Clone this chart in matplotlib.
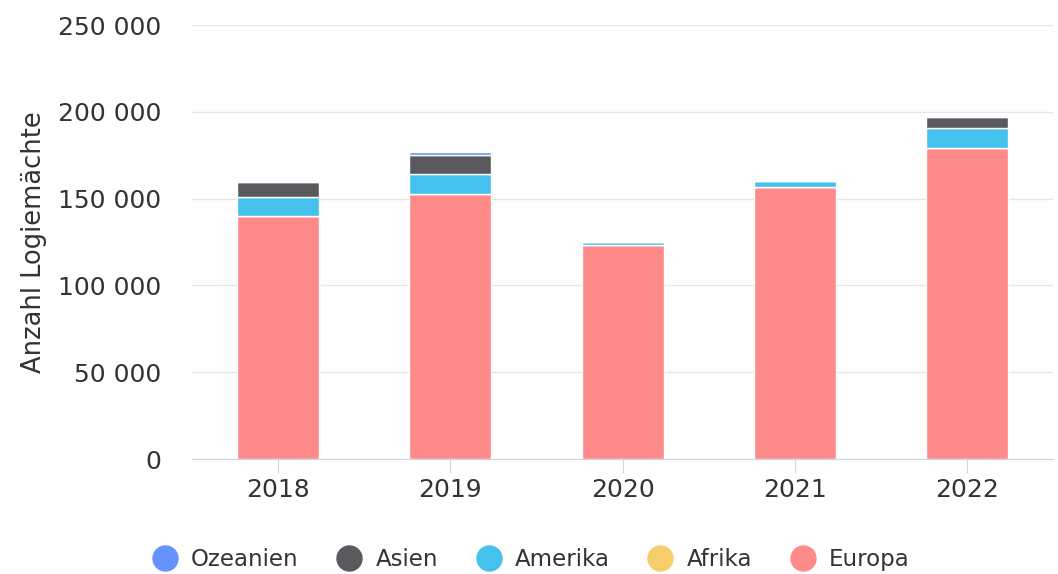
import matplotlib
matplotlib.use('Agg')
import matplotlib.pyplot as plt
from matplotlib.ticker import FuncFormatter
from matplotlib.lines import Line2D
import numpy as np

plt.rcParams['font.family'] = ['DejaVu Sans']

# Logiernächte nach Herkunft
years = ['2018', '2019', '2020', '2021', '2022']
europa = [140000, 152600, 123300, 156800, 179000]
afrika = [0, 0, 0, 0, 0]
amerika = [10900, 11800, 1900, 3200, 11800]
asien = [8900, 10700, 0, 0, 6000]
ozeanien = [0, 1600, 0, 0, 0]

series = [
    ('Europa', europa, '#ff8a8a'),
    ('Afrika', afrika, '#f5cd6a'),
    ('Amerika', amerika, '#45c1ee'),
    ('Asien', asien, '#5a5a5e'),
    ('Ozeanien', ozeanien, '#6592ff'),
]

fig = plt.figure(figsize=(10.58, 5.74), dpi=100)
ax = fig.add_axes([0.1815, 0.2003, 0.814, 0.7561])

x = np.arange(len(years))
bottom = np.zeros(len(years))
for name, vals, col in series:
    vals = np.array(vals, dtype=float)
    ax.bar(x, vals, width=0.475, bottom=bottom, color=col,
           edgecolor='white', linewidth=1, zorder=3)
    bottom += vals

ax.set_xlim(-0.5, len(years) - 0.5)
ax.set_ylim(0, 250000)
ax.set_yticks(range(0, 250001, 50000))
ax.yaxis.set_major_formatter(FuncFormatter(lambda v, p: f'{int(v):,}'.replace(',', ' ')))
ax.set_xticks(x)
ax.set_xticklabels(years)

ax.grid(axis='y', color='#e6e6e6', linewidth=1, zorder=0)
for s in ['top', 'right', 'left']:
    ax.spines[s].set_visible(False)
ax.spines['bottom'].set_color('#ccd6eb')
ax.spines['bottom'].set_zorder(4)
ax.tick_params(axis='y', length=0, pad=22, labelsize=18, labelcolor='#333333')
ax.tick_params(axis='x', length=10, color='#ccd6eb', pad=4, labelsize=18, labelcolor='#333333')

ax.set_ylabel('Anzahl Logiemächte', fontsize=18.5, color='#333333', labelpad=8)

handles = [Line2D([], [], marker='o', linestyle='', markersize=18, color=col)
           for name, vals, col in series[::-1]]
labels = [name for name, vals, col in series[::-1]]
fig.legend(handles, labels, loc='lower center', ncol=5, frameon=False,
           bbox_to_anchor=(0.497, -0.03), fontsize=16.5, handletextpad=0.15,
           columnspacing=1.2, labelcolor='#333333')

fig.savefig('out.png', dpi=100)
